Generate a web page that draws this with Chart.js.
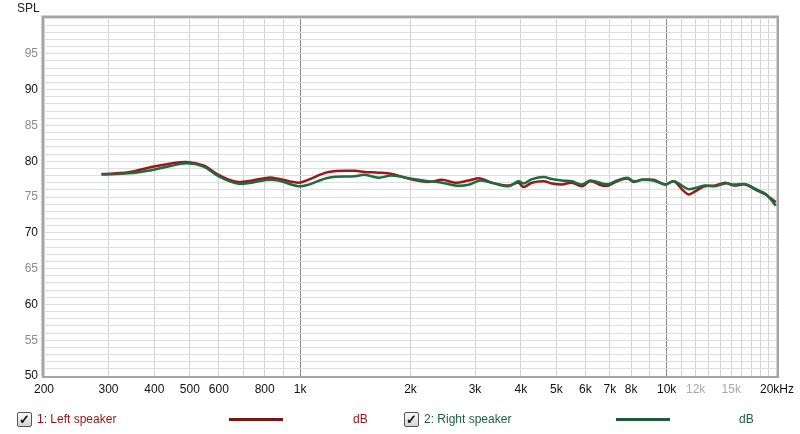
<!DOCTYPE html>
<html>
<head>
<meta charset="utf-8">
<script src="https://cdn.jsdelivr.net/npm/chart.js@4/dist/chart.umd.min.js"></script>
<style>
body { margin: 0; background: #fff; font-family: "Liberation Sans", Arial, sans-serif; }
#wrap { position: relative; width: 800px; height: 434px; overflow: hidden; }
#axis_name { position: absolute; left: 17px; top: 1px; font-size: 12px; color: #222; }
.leg { position: absolute; top: 411px; font-size: 12px; line-height: 16px; }
.box { position: absolute; top: 1px; width: 13px; height: 13px; border: 1px solid #555; border-radius: 2px;
       background: linear-gradient(#fafafa, #d4d4d4); font-size: 13px; font-weight: bold; line-height: 13px;
       text-align: center; color: #111; }
.swatch { position: absolute; top: 7px; height: 3px; }
</style>
</head>
<body>
<div id="wrap">
<canvas id="spl" width="800" height="434"></canvas>
<div id="axis_name">SPL</div>
<div class="leg" style="left:0; color:#8c1414">
  <span class="box" style="left:17px">&#10003;</span>
  <span style="position:absolute; left:37px; white-space:nowrap">1: Left speaker</span>
  <span class="swatch" style="left:229px; width:54px; background:#7a1616"></span>
  <span style="position:absolute; left:353px">dB</span>
</div>
<div class="leg" style="left:0; color:#1d5e3a">
  <span class="box" style="left:404px">&#10003;</span>
  <span style="position:absolute; left:424px; white-space:nowrap">2: Right speaker</span>
  <span class="swatch" style="left:616px; width:54px; background:#1d5a3c"></span>
  <span style="position:absolute; left:739px">dB</span>
</div>
</div>
<script>
// frequencies (Hz) shared by both traces
let freqs = [287, 340, 393, 440, 490, 545, 598, 679, 819, 872, 990,
    1050, 1195, 1413, 1500, 1636, 1780, 1997, 2240, 2440, 2650,
    2880, 3100, 3330, 3700, 3940, 4070, 4290, 4620, 4860, 5180,
    5510, 5870, 6190, 6660, 6940, 7320, 7810, 8120, 8560, 9200,
    9900, 10460, 11000, 11460, 11950, 12700, 13560, 14450, 15250, 16400,
    17500, 18600, 19850];

let left_db = [78.2, 78.45, 79.2, 79.65, 79.9, 79.4, 78.1, 77.1, 77.7, 77.55, 77.0,
    77.4, 78.5, 78.65, 78.5, 78.4, 78.2, 77.5, 77.1, 77.4, 77.0,
    77.3, 77.6, 77.0, 76.6, 77.0, 76.4, 77.0, 77.2, 76.9, 76.75,
    77.0, 76.5, 77.2, 76.6, 76.6, 77.2, 77.6, 77.1, 77.4, 77.4,
    76.75, 77.2, 76.1, 75.35, 75.8, 76.5, 76.6, 77.0, 76.6, 76.75,
    76.0, 75.35, 74.3];

let right_db = [78.15, 78.3, 78.75, 79.3, 79.7, 79.25, 77.9, 76.85, 77.4, 77.3, 76.5,
    76.7, 77.7, 77.9, 78.1, 77.7, 78.0, 77.6, 77.2, 77.0, 76.6,
    76.7, 77.3, 77.0, 76.5, 77.2, 76.9, 77.5, 77.8, 77.5, 77.3,
    77.2, 76.75, 77.3, 76.9, 76.8, 77.3, 77.7, 77.2, 77.4, 77.3,
    76.75, 77.2, 76.6, 76.1, 76.25, 76.6, 76.5, 76.9, 76.75, 76.8,
    76.1, 75.45, 73.8];

// vertical grid lines and their labels
let grid_freqs = [200, 300, 400, 500, 600, 700, 800, 900,
    1000, 2000, 3000, 4000, 5000, 6000, 7000, 8000, 9000,
    10000, 11000, 12000, 13000, 14000, 15000, 16000, 17000, 18000, 19000, 20000];
let label_freqs = [200, 300, 400, 500, 600, 800, 1000, 2000, 3000, 4000, 5000,
    6000, 7000, 8000, 10000, 12000, 15000, 20000];
let label_texts = ['200', '300', '400', '500', '600', '800', '1k', '2k', '3k', '4k', '5k',
    '6k', '7k', '8k', '10k', '12k', '15k', '20kHz'];
let faint_labels = [12000, 15000];

let to_points = (ys) => freqs.map((f, i) => ({x: f, y: ys[i]}));

let frame = {
    id: 'frame',
    afterDraw(chart) {
        let a = chart.chartArea, c = chart.ctx;
        c.save();
        c.strokeStyle = '#a4a4a4';
        c.lineWidth = 2;
        c.strokeRect(a.left - 1, a.top - 1, a.right - a.left + 2, a.bottom - a.top + 2);
        c.strokeStyle = '#d0d0d0';
        c.lineWidth = 1;
        c.beginPath();
        c.moveTo(a.left - 2.5, a.bottom);
        c.lineTo(a.left - 2.5, a.top - 2.5);
        c.lineTo(a.right + 2, a.top - 2.5);
        c.stroke();
        c.restore();
    }
};

Chart.defaults.font.family = '"Liberation Sans", Arial, sans-serif';
Chart.defaults.font.size = 12;

let ctx = document.getElementById('spl').getContext('2d');
let chart = new Chart(ctx, {
    type: 'line',
    data: {
        datasets: [{
            label: '1: Left speaker',
            data: to_points(left_db),
            borderColor: '#9a1818',
            borderWidth: 2.5,
            pointRadius: 0,
            tension: 0.35,
            order: 2,
        }, {
            label: '2: Right speaker',
            data: to_points(right_db),
            borderColor: '#1d6b3e',
            borderWidth: 2.5,
            pointRadius: 0,
            tension: 0.35,
            order: 1,
        }],
    },
    options: {
        responsive: false,
        animation: false,
        layout: {padding: {left: 0, right: 22, top: 18, bottom: 28}},
        plugins: {legend: {display: false}, tooltip: {enabled: false}},
        scales: {
            x: {
                type: 'logarithmic',
                min: 200,
                max: 20000,
                afterBuildTicks: (s) => { s.ticks = grid_freqs.map(v => ({value: v})); },
                afterFit: (s) => { s.height = 30; },
                border: {display: false},
                grid: {
                    drawTicks: false,
                    color: (c) => (c.tick && (c.tick.value === 1000 || c.tick.value === 10000)) ? '#8a8a8a' : '#d2d2d2',
                },
                ticks: {
                    autoSkip: false,
                    maxRotation: 0,
                    padding: 6,
                    callback: (v) => {
                        let i = label_freqs.indexOf(v);
                        return i >= 0 ? label_texts[i] : '';
                    },
                    color: (c) => faint_labels.includes(c.tick.value) ? '#a8a8a8' : '#111',
                },
            },
            y: {
                min: 50,
                max: 100,
                afterFit: (s) => { s.width = 44; },
                border: {display: false},
                grid: {drawTicks: false, color: '#dedede'},
                ticks: {
                    stepSize: 1,
                    autoSkip: false,
                    padding: 6,
                    callback: (v) => (v % 5 === 0 && v < 100) ? String(v) : '',
                    color: (c) => c.tick.value % 10 === 0 ? '#111' : '#8c8c8c',
                },
            },
        },
    },
    plugins: [frame],
});
</script>
</body>
</html>
